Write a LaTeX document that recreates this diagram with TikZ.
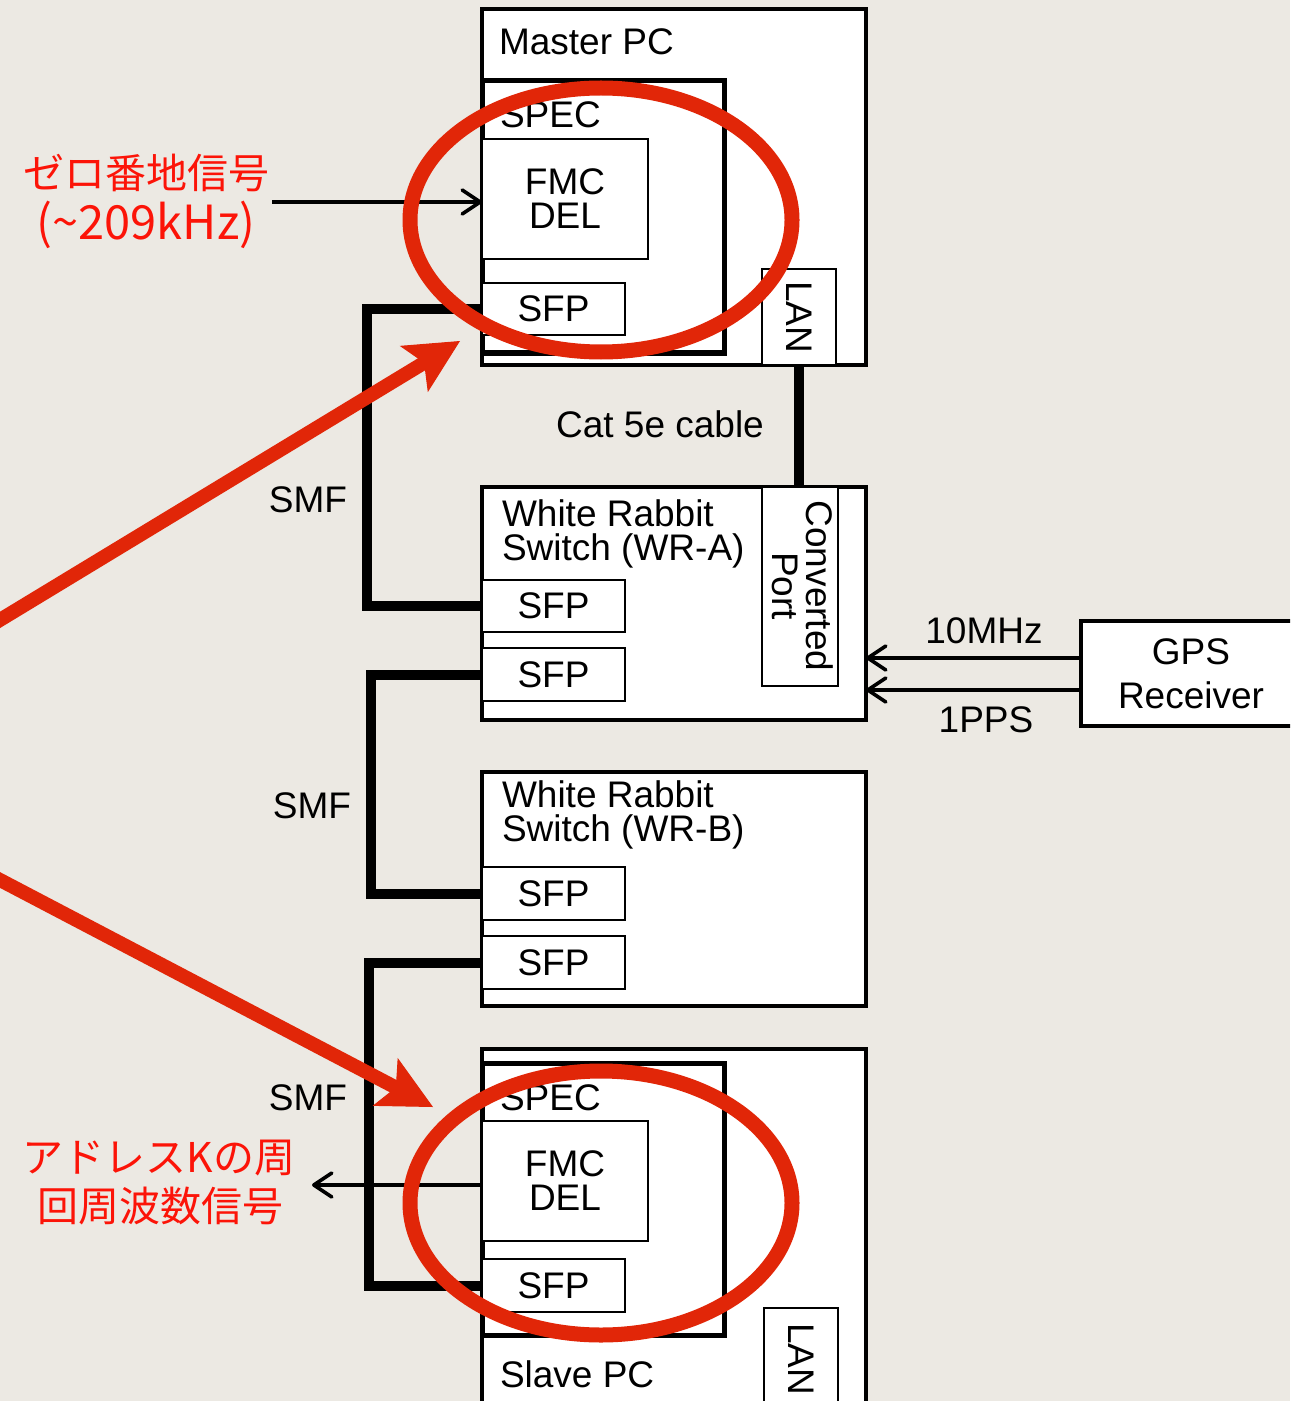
\documentclass[tikz,border=0pt]{standalone}
\usepackage{fontspec}
\setmainfont{Liberation Sans}
\newfontfamily\jpfont{Noto Sans CJK JP}
\usetikzlibrary{arrows.meta}
\newcommand\mylbl{\fontsize{18.5pt}{17pt}\selectfont}
\newcommand\myjp{\jpfont\fontsize{20.5pt}{26pt}\selectfont}
\definecolor{paper}{RGB}{236,233,227}
\definecolor{ringred}{RGB}{225,38,8}
\definecolor{txtred}{RGB}{252,20,8}
\begin{document}
\begin{tikzpicture}[x=0.5pt,y=-0.5pt,
  frame/.style={draw, fill=white, line width=2pt, anchor=north west, inner sep=0pt, outer sep=0pt, font=\mylbl, align=center},
  specbox/.style={draw, line width=2.5pt, anchor=north west, inner sep=0pt, outer sep=0pt},
  part/.style={draw, fill=white, line width=1pt, anchor=north west, inner sep=0pt, outer sep=0pt, font=\mylbl, align=center},
  txt/.style={inner sep=0pt, outer sep=0pt, font=\mylbl},
  jtxt/.style={inner sep=0pt, outer sep=0pt, font=\myjp, text=txtred},
  fiber/.style={line width=5pt},
  sig/.style={line width=1.8pt, -{Straight Barb[length=9pt,width=12pt,round]}},
  ring/.style={draw=ringred, line width=7.5pt},
  pointer/.style={draw=ringred, line width=7pt, -{Stealth[length=27pt,width=27pt,inset=6pt,line width=0.5pt]}},
]
\fill[paper] (0,0) rectangle (1290,1401);
\useasboundingbox (0,0) rectangle (1290,1401);
\clip (0,0) rectangle (1290,1401);

% Master PC
\node[frame, minimum width=192pt, minimum height=178pt] (master) at (482,9) {};
\node[specbox, minimum width=121pt, minimum height=136pt] (mspec) at (482,81) {};
\node[part, minimum width=83pt, minimum height=60pt] (mfmc) at (482,139) {FMC\\DEL};
\node[part, minimum width=71.5pt, minimum height=26pt] (msfp) at (482,283) {SFP};
\node[part, minimum width=37pt, minimum height=48pt] (mlan) at (762,269) {};
\node[txt, rotate=-90] (mlant) at (mlan.center) {LAN};
\node[txt, anchor=base west] (mastert) at (499,55) {Master PC};
\node[txt, anchor=base west] (mspect) at (500,128) {SPEC};

% WR-A
\node[frame, minimum width=192pt, minimum height=116.5pt] (wra) at (482,487) {};
\node[part, minimum width=38pt, minimum height=99.5pt] (cport) at (762,487) {};
\node[txt, rotate=-90, align=center] (cportt) at (803,586) {Converted\\Port};
\node[part, minimum width=71.5pt, minimum height=26pt] (asfp1) at (482,580) {SFP};
\node[part, minimum width=71.5pt, minimum height=26.5pt] (asfp2) at (482,648) {SFP};
\node[txt, anchor=base west] (wrat1) at (502,526) {White Rabbit};
\node[txt, anchor=base west] (wrat2) at (502,560) {Switch (WR-A)};

% WR-B
\node[frame, minimum width=192pt, minimum height=117pt] (wrb) at (482,772) {};
\node[part, minimum width=71.5pt, minimum height=26.5pt] (bsfp1) at (482,867) {SFP};
\node[part, minimum width=71.5pt, minimum height=26.5pt] (bsfp2) at (482,936) {SFP};
\node[txt, anchor=base west] (wrbt1) at (502,807) {White Rabbit};
\node[txt, anchor=base west] (wrbt2) at (502,841) {Switch (WR-B)};

% Slave PC
\node[frame, minimum width=192pt, minimum height=185pt] (slave) at (482,1049) {};
\node[specbox, minimum width=121pt, minimum height=136pt] (sspec) at (482,1063) {};
\node[part, minimum width=83pt, minimum height=60pt] (sfmc) at (482,1121) {FMC\\DEL};
\node[part, minimum width=71.5pt, minimum height=26.5pt] (ssfp) at (482,1259) {SFP};
\node[part, minimum width=37pt, minimum height=51pt] (slan) at (764,1308) {};
\node[txt, rotate=-90] (slant) at (slan.center) {LAN};
\node[txt, anchor=base west] (slavet) at (500,1387) {Slave PC};
\node[txt, anchor=base west] (sspect) at (500,1110) {SPEC};

% GPS
\node[frame, minimum width=110pt, minimum height=52.5pt] (gps) at (1081,621) {GPS\\[5pt]Receiver};

% connectors
\draw[fiber] (msfp.west) -- ++(-115,0) |- (asfp1.west);
\draw[fiber] (asfp2.west) -- ++(-111,0) |- (bsfp1.west);
\draw[fiber] (bsfp2.west) -- ++(-113,0) |- (ssfp.west);
\draw[fiber] (mlan.south) -- (mlan.south |- cport.north);
\draw[sig] ([yshift=7.75pt]gps.west) -- ([yshift=7.75pt]gps.west -| wra.east);
\draw[sig] ([yshift=-8.25pt]gps.west) -- ([yshift=-8.25pt]gps.west -| wra.east);
\coordinate (zin) at (272,202);
\coordinate (kout) at (312,1185);
\draw[sig] (zin) -- (zin -| mfmc.west);
\draw[sig] (kout -| sfmc.west) -- (kout);

% labels
\node[txt] (cat) at (660,424) {Cat 5e cable};
\node[txt] (smf1) at (308,500) {SMF};
\node[txt] (smf2) at (312,806) {SMF};
\node[txt] (smf3) at (308,1098) {SMF};
\node[txt] (mhz) at (984,631) {10MHz};
\node[txt] (pps) at (986,720) {1PPS};

% red highlights
\draw[ring] (601,220) ellipse [x radius=95.5pt, y radius=66pt];
\draw[ring] (601,1203) ellipse [x radius=95.5pt, y radius=66pt];
\coordinate (p1) at (-20,632);
\coordinate (t1) at (460,341);
\coordinate (p2) at (-20,869.5);
\coordinate (t2) at (433,1107);
\draw[pointer] (p1) -- (t1);
\draw[pointer] (p2) -- (t2);

% red texts
\node[jtxt] (zero1) at (146,173) {ゼロ番地信号};
\node[jtxt, font=\jpfont\fontsize{23.5pt}{26pt}\selectfont] (zero2) at (146,225) {(\textasciitilde209kHz)};
\node[jtxt] (addr1) at (159,1158) {アドレスKの周};
\node[jtxt] (addr2) at (160,1206) {回周波数信号};
\end{tikzpicture}
\end{document}
